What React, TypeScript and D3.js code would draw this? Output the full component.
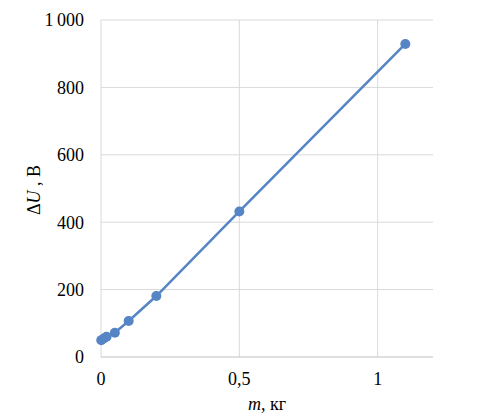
import React from "react";
import * as d3 from "d3";

const massKg = [0.001, 0.01, 0.02, 0.05, 0.1, 0.2, 0.5, 1.1];
const deltaU = [50, 55, 60, 72, 107, 181, 432, 929];
const yTicks = [0, 200, 400, 600, 800, 1000];
const yTickLabels = ["0", "200", "400", "600", "800", "1\u2009000"];
const xTicks = [0, 0.5, 1];
const xTickLabels = ["0", "0,5", "1"];

const W = 492, H = 415;
const M = { left: 101, right: 433, top: 20, bottom: 357 };
const FONT = "'Liberation Serif', 'Times New Roman', serif";
const COLOR = "#5585C4";

export default function App() {
  const x = d3.scaleLinear().domain([0, 1.2]).range([M.left, M.right]);
  const y = d3.scaleLinear().domain([0, 1000]).range([M.bottom, M.top]);
  const pts = massKg.map((m, i) => [m, deltaU[i]] as [number, number]);
  const line = d3.line<[number, number]>().x(d => x(d[0])).y(d => y(d[1]));
  return (
    <svg width={W} height={H} style={{ position: "absolute", left: 0, top: 0, background: "#fff" }}>
      <rect x={0} y={0} width={W} height={H} fill="#fff" />
      {yTicks.map((t, i) => (
        <g key={"y" + i}>
          {t !== 0 && (
            <line x1={x(0)} x2={x(1.2)} y1={y(t)} y2={y(t)} stroke="#D9D9D9" strokeWidth={1} />
          )}
          <text x={84} y={y(t)} dy="0.35em" textAnchor="end" fontFamily={FONT} fontSize={18} fill="#000">
            {yTickLabels[i]}
          </text>
        </g>
      ))}
      {xTicks.map((t, i) => (
        <g key={"x" + i}>
          <line x1={x(t)} x2={x(t)} y1={y(0)} y2={y(1000)} stroke="#D9D9D9" strokeWidth={1} />
          <text x={x(t)} y={385} textAnchor="middle" fontFamily={FONT} fontSize={18} fill="#000">
            {xTickLabels[i]}
          </text>
        </g>
      ))}
      <line x1={x(0)} x2={x(1.2)} y1={y(0)} y2={y(0)} stroke="#BFBFBF" strokeWidth={1} />
      <path d={line(pts) || ""} fill="none" stroke={COLOR} strokeWidth={2.5} />
      {pts.map((p, i) => (
        <circle key={i} cx={x(p[0])} cy={y(p[1])} r={5} fill={COLOR} />
      ))}
      <text x={267} y={410} textAnchor="middle" fontFamily={FONT} fontSize={18} fill="#000">
        <tspan fontStyle="italic">m</tspan>, кг
      </text>
      <text transform={`translate(40,190) rotate(-90)`} textAnchor="middle" fontFamily={FONT} fontSize={18} fill="#000">
        Δ<tspan fontStyle="italic">U</tspan> , В
      </text>
    </svg>
  );
}
